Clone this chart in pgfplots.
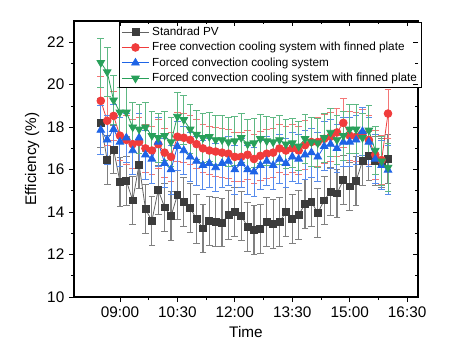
\documentclass[border=0pt]{standalone}
\usepackage{fontspec}
\setmainfont{Liberation Sans}
\usepackage{pgfplots}
\pgfplotsset{compat=1.18}
\usepackage{pgfplotstable}

\definecolor{pvc}{RGB}{60,60,60}
\definecolor{frc}{RGB}{240,60,60}
\definecolor{fcc}{RGB}{30,100,230}
\definecolor{fic}{RGB}{40,160,90}

% time in minutes after midnight, efficiency in %
\pgfplotstableread{
t pv free forced fin
510 18.20 19.24 17.86 21.04
520 16.45 18.30 17.40 20.60
530 16.95 18.53 17.90 19.27
540 15.43 17.60 17.30 18.70
550 15.47 17.40 17.50 18.70
560 14.55 17.20 16.90 18.00
570 16.24 17.30 17.50 17.90
580 14.14 17.00 16.70 18.00
590 13.59 16.90 16.50 17.60
600 15.04 17.20 17.30 17.50
610 14.22 16.80 16.30 17.60
620 13.81 16.60 16.00 17.30
630 14.80 17.55 17.10 18.50
640 14.46 17.50 16.90 18.35
650 14.20 17.40 16.60 17.90
660 13.67 17.20 16.40 17.65
670 13.23 17.00 16.20 17.50
680 13.58 16.90 16.30 17.55
690 13.53 16.85 16.10 17.40
700 13.51 16.80 16.30 17.40
710 13.86 16.75 16.40 17.30
720 14.00 16.60 16.00 17.35
730 13.83 16.60 16.30 17.50
740 13.31 16.70 16.00 17.20
750 13.14 16.50 15.90 17.25
760 13.19 16.65 16.20 17.45
770 13.52 16.75 16.40 17.35
780 13.45 16.80 16.20 17.30
790 13.52 17.00 16.50 17.40
800 14.00 16.90 16.30 17.20
810 13.69 17.00 16.60 17.25
820 13.86 16.90 16.50 17.10
830 14.39 17.15 16.70 17.45
840 14.47 17.30 16.80 17.30
850 13.97 17.30 16.60 17.25
860 14.55 17.45 17.10 17.50
870 14.97 17.55 17.20 17.75
880 14.88 17.75 17.00 17.40
890 15.50 18.20 17.30 17.60
900 15.21 17.60 17.30 17.90
910 15.47 17.55 17.40 17.90
920 16.41 17.70 17.80 17.50
930 16.65 17.40 17.30 17.85
940 16.41 16.70 16.50 16.90
950 16.32 16.45 16.20 16.40
960 16.49 18.64 15.98 16.10
}\effdata

\begin{document}
\begin{tikzpicture}
\pgfplotsset{
  myaxis/.style={
    width=258pt, height=207pt, scale only axis,
    xmin=468, xmax=1007, ymin=10, ymax=23,
    xtick={540,630,720,810,900,990},
    ytick={10,12,14,16,18,20,22},
    minor x tick num=1, minor y tick num=1,
    major tick length=3.75pt, minor tick length=2.25pt,
    axis line style={line width=0.8pt},
    every tick/.style={line width=0.6pt, black},
  }
}
\begin{axis}[myaxis,
    tick align=outside, xtick pos=bottom, ytick pos=left,
    xticklabels={09:00,10:30,12:00,13:30,15:00,16:30},
    ticklabel style={font=\fontsize{11.5}{13}\selectfont},
    /pgf/number format/assume math mode=true,
    xlabel={Time}, ylabel={Efficiency (\%)},
    label style={font=\fontsize{11.5}{13}\selectfont},
    ylabel style={yshift=-1pt},
    legend style={at={(0.132,0.996)}, anchor=north west, draw=black, line width=0.6pt,
      font=\fontsize{8.8}{10.5}\selectfont, inner sep=1.2pt, row sep=-0.3pt,
      cells={anchor=west}},
    legend image code/.code={\draw[mark repeat=2,mark phase=2] plot coordinates {(0cm,0cm) (0.36cm,0cm) (0.72cm,0cm)};},
    error bars/y dir=both, error bars/y fixed=1.15,
  ]
\addplot[color=pvc!80, line width=0.6pt, mark=square*, mark size=2.6pt,
  mark options={fill=pvc, draw=pvc},
  error bars/error bar style={color=pvc!65, line width=0.9pt},
  error bars/error mark options={rotate=90, mark size=2.5pt, color=pvc!65, line width=0.7pt}]
  table[x=t, y=pv] {\effdata};
\addlegendentry{Standrad PV}
\addplot[color=frc, line width=0.6pt, mark=*, mark size=2.9pt,
  mark options={fill=frc, draw=frc},
  error bars/error bar style={color=frc!70, line width=0.7pt},
  error bars/error mark options={rotate=90, mark size=2.5pt, color=frc!70, line width=0.7pt}]
  table[x=t, y=free] {\effdata};
\addlegendentry{Free convection cooling system with finned plate}
\addplot[color=fcc, line width=0.6pt, mark=triangle*, mark size=3.3pt,
  mark options={fill=fcc, draw=fcc},
  error bars/error bar style={color=fcc!75, line width=0.7pt},
  error bars/error mark options={rotate=90, mark size=2.5pt, color=fcc!75, line width=0.7pt}]
  table[x=t, y=forced] {\effdata};
\addlegendentry{Forced convection cooling system}
\addplot[color=fic, line width=0.6pt, mark=triangle*, mark size=3.3pt,
  mark options={fill=fic, draw=fic, rotate=180},
  error bars/error bar style={color=fic!75, line width=0.7pt},
  error bars/error mark options={rotate=90, mark size=2.5pt, color=fic!75, line width=0.7pt}]
  table[x=t, y=fin] {\effdata};
\addlegendentry{Forced convection cooling system with finned plate}
\end{axis}
\begin{axis}[myaxis, tick align=inside, xtick pos=top, ytick pos=right,
    xticklabels={}, yticklabels={}, axis line style={draw=none}]
\end{axis}
\path ([xshift=-55.5pt,yshift=-42.75pt]current axis.south west) rectangle ([xshift=27pt,yshift=15.75pt]current axis.north east);
\end{tikzpicture}
\end{document}
